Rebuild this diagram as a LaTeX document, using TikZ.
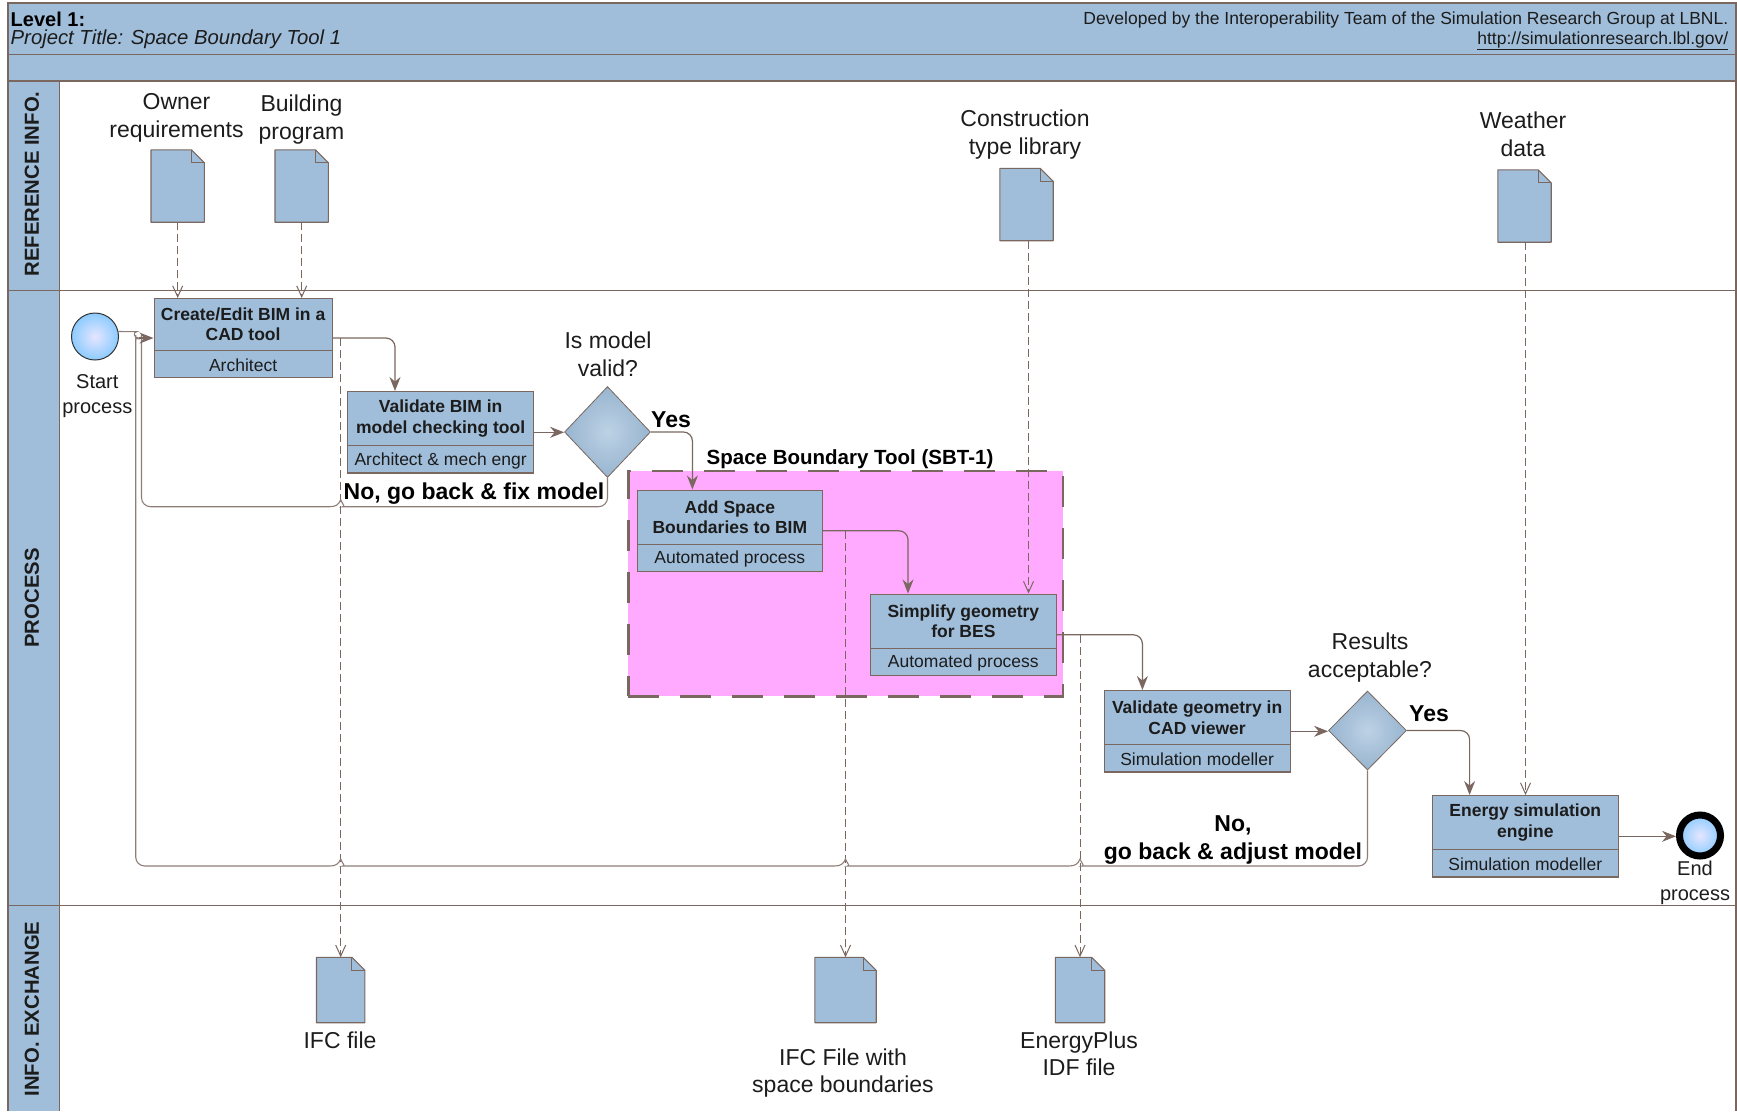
\documentclass[tikz,border=0pt]{standalone}
\usepackage{fontspec}
\setmainfont{Liberation Sans}
\usetikzlibrary{arrows.meta,positioning,shapes.geometric,shapes.multipart}

\definecolor{band}{HTML}{A0BEDA}
\definecolor{lineclr}{HTML}{7A675F}
\definecolor{sbtfill}{HTML}{FFAAFF}
\definecolor{txtclr}{HTML}{1C1C1C}

\newcommand{\taskparts}[4][53pt]{\parbox[c][#1][c]{#2}{\centering\bfseries #3}\nodepart{two}\parbox[c][26pt][c]{#2}{\centering\vspace*{2.4pt}#4}}
\newcommand{\hop}[2]{-- ({#1+11},#2) [sharp corners] .. controls ({#1+5},#2) and ({#1+2},{#2-2}) .. (#1,{#2-7}) .. controls ({#1-2},{#2-2}) and ({#1-5},#2) .. ({#1-11},#2) [rounded corners=9pt]}

\tikzset{
  lbl/.style = {font=\fontsize{23}{27.5}\selectfont, text=txtclr, align=center, inner sep=0pt},
  smalllbl/.style = {font=\fontsize{20}{25}\selectfont, text=txtclr, align=center, inner sep=0pt},
  boldlbl/.style = {font=\fontsize{23}{28}\selectfont\bfseries, text=black, align=center, inner sep=0pt},
  lanelbl/.style = {font=\fontsize{20.3}{24}\selectfont\bfseries, text=txtclr, rotate=90, inner sep=0pt},
  taskbox/.style = {rectangle split, rectangle split parts=2, draw=lineclr, line width=1.2pt, fill=band,
    inner sep=0pt, anchor=north west, text=txtclr, font=\fontsize{17.5}{20.5}\selectfont},
  choice/.style = {diamond, draw=lineclr, line width=.8pt, inner color=band!70!white, outer color=band!95!black, inner sep=0pt},
  docu/.style = {rectangle, inner sep=0pt, minimum width=53pt, minimum height=72pt,
    append after command={\pgfextra{
      \path[draw=lineclr, fill=band, line width=1.1pt, line join=round]
        (\tikzlastnode.north west) -- ([xshift=-13pt]\tikzlastnode.north east)
        -- ([yshift=-13pt]\tikzlastnode.north east) -- (\tikzlastnode.south east)
        -- (\tikzlastnode.south west) -- cycle;
      \path[draw=lineclr, line width=1.1pt, line join=round]
        ([xshift=-13pt]\tikzlastnode.north east) -- ([xshift=-13pt,yshift=-13pt]\tikzlastnode.north east)
        -- ([yshift=-13pt]\tikzlastnode.north east);
    }}},
  flow/.style = {draw=lineclr, line width=1.2pt, rounded corners=9pt, -{Stealth[length=14pt,width=11pt]}},
  back/.style = {draw=lineclr!85!white, line width=1.1pt, rounded corners=9pt},
  info/.style = {draw=lineclr, line width=1pt, dash pattern=on 8pt off 4pt, -{Straight Barb[length=11pt,width=10pt]}},
}

\begin{document}
\begin{tikzpicture}[x=1pt,y=-1pt]
  \useasboundingbox (0,0) rectangle (1737,1111);

  % bands and lanes
  \fill[band] (8,3) rectangle (1736,81);
  \fill[band] (8,81) rectangle (59.5,1111);
  \draw[lineclr,line width=1.2pt] (8,1111) -- (8,3) -- (1736,3) -- (1736,1111);
  \draw[lineclr,line width=1.2pt] (8,54.5) -- (1736,54.5);
  \draw[lineclr,line width=1.2pt] (8,81) -- (1736,81);
  \draw[lineclr,line width=1pt] (59.5,81) -- (59.5,1111);
  \draw[lineclr,line width=1pt] (8,290) -- (1736,290);
  \draw[lineclr,line width=1pt] (8,905) -- (1736,905);

  \node[lanelbl] (lane1) at (32,184) {REFERENCE INFO.};
  \node[lanelbl] (lane2) at (32,598) {PROCESS};
  \node[lanelbl] (lane3) at (32,1009) {INFO. EXCHANGE};

  \node[anchor=west,inner sep=0pt,text=black,font=\fontsize{20}{24}\selectfont\bfseries] (level) at (10.5,19) {Level 1:};
  \node[anchor=west,inner sep=0pt,text=txtclr,font=\fontsize{20.3}{24}\selectfont\itshape] (title) at (10.5,39.5) {Project Title: Space Boundary Tool 1};
  \node[anchor=east,inner sep=0pt,text=txtclr,font=\fontsize{17.5}{21}\selectfont] (devby) at (1728.5,20) {Developed by the Interoperability Team of the Simulation Research Group at LBNL.};
  \node[anchor=east,inner sep=0pt,text=txtclr,font=\fontsize{17.5}{21}\selectfont] (url) at (1728.5,41) {\underline{http://simulationresearch.lbl.gov/}};

  % tool frame
  \node[draw=lineclr,fill=sbtfill,line width=2.6pt,dash pattern=on 31pt off 21pt,inner sep=0pt,
        minimum width=434.5pt,minimum height=225.5pt,anchor=north west] (sbt) at (627,469.5) {};
  \node[inner sep=0pt,text=black,font=\fontsize{20.5}{24}\selectfont\bfseries] (sbtlbl) at (850,459.5) {Space Boundary Tool (SBT-1)};

  % documents
  \node[docu] (ownerdoc) at (177.7,186) {};
  \node[docu] (progdoc) at (301.7,186) {};
  \node[docu] (constrdoc) at (1026.5,204.5) {};
  \node[docu] (weatherdoc) at (1524.5,206) {};
  \node[docu,minimum width=48pt,minimum height=65pt] (ifcdoc) at (340.7,990) {};
  \node[docu,minimum width=61pt,minimum height=65pt] (ifcbdoc) at (845.5,990) {};
  \node[docu,minimum width=49pt,minimum height=65pt] (epdoc) at (1080,990) {};

  \node[lbl] (ownerlbl) at (176.5,118) {Owner\\requirements};
  \node[lbl] (proglbl) at (301.5,119.5) {Building\\program};
  \node[lbl] (constrlbl) at (1025,134.5) {Construction\\type library};
  \node[lbl] (weatherlbl) at (1523,134.5) {Weather\\data};
  \node[lbl] (ifclbl) at (340,1040) {IFC file};
  \node[lbl] (ifcblbl) at (843,1073) {IFC File with\\space boundaries};
  \node[lbl] (eplbl) at (1079,1054) {EnergyPlus\\IDF file};

  % tasks
  \node[taskbox] (create) at (153.5,298) {\taskparts[50.5pt]{178pt}{Create/Edit BIM in a\\CAD tool}{Architect}};
  \node[taskbox] (validate) at (347,391) {\taskparts{186pt}{Validate BIM in\\model checking tool}{Architect \& mech engr}};
  \node[taskbox] (addsb) at (636.5,489.5) {\taskparts{185.5pt}{Add Space\\Boundaries to BIM}{Automated process}};
  \node[taskbox] (simplify) at (870,593.5) {\taskparts{185.5pt}{Simplify geometry\\for BES}{Automated process}};
  \node[taskbox] (geomcheck) at (1103.5,690) {\taskparts{186pt}{Validate geometry in\\CAD viewer}{Simulation modeller}};
  \node[taskbox] (energy) at (1431.7,795) {\taskparts{186pt}{Energy simulation\\engine}{Simulation modeller}};

  \node[choice,minimum width=86pt,minimum height=91pt] (valid) at (607.5,432) {};
  \node[choice,minimum width=78pt,minimum height=79pt] (accept) at (1367.5,730.5) {};

  \node[circle,draw=black!80,line width=1pt,inner sep=0pt,minimum size=47pt,inner color=white!90!blue,outer color=blue!45!cyan!45!white] (start) at (95,336.5) {};
  \node[circle,draw=black,line width=7pt,inner sep=0pt,minimum size=41pt,inner color=white!90!blue,outer color=blue!45!cyan!45!white] (finish) at (1700,835.5) {};

  \node[smalllbl] (startlbl) at (97.3,396) {Start\\process};
  \node[smalllbl] (finishlbl) at (1695,882.5) {End\\process};
  \node[lbl] (validlbl) at (608,354.5) {Is model\\valid?};
  \node[lbl] (acceptlbl) at (1370,657.5) {Results\\acceptable?};
  \node[boldlbl] (yes1) at (671,420) {Yes};
  \node[boldlbl] (yes2) at (1429,714) {Yes};
  \node[boldlbl] (no1) at (474,494) {No, go back \& fix model};
  \node[boldlbl] (no2) at (1233,840) {No,\\go back \& adjust model};

  % entry points on the boxes
  \coordinate (createin) at ([xshift=-15pt]create.west);
  \coordinate (validatein) at (395,391);
  \coordinate (addsbin) at (692.4,489.5);
  \coordinate (simplifyin) at (908,593.5);
  \coordinate (geomin) at (1142.4,690);
  \coordinate (energyin) at (1469.6,795);
  \coordinate (ownerin) at (177.7,298);
  \coordinate (progin) at (301.7,298);
  \coordinate (constrin) at (1028.5,593.5);
  \coordinate (weatherin) at (1525.5,795);

  % information flows
  \draw[info] (ownerdoc.south) -- (ownerin);
  \draw[info] (progdoc.south) -- (progin);
  \draw[info] (constrdoc.south -| constrin) -- (constrin);
  \draw[info] (weatherdoc.south -| weatherin) -- (weatherin);
  \draw[info] (ifcdoc.north |- create.east) -- (ifcdoc.north);
  \draw[info] (ifcbdoc.north |- addsb.east) -- (ifcbdoc.north);
  \draw[info] (epdoc.north |- simplify.east) -- (epdoc.north);

  % going back
  \draw[back] (valid.south) -- (607.5,506.7) \hop{340.7}{506.7} -- (141.5,506.7) -- (141.5,344) to[out=90,in=180] (createin);
  \draw[back] (accept.south) -- (1367.5,866) \hop{1080}{866} \hop{845.5}{866} \hop{340.7}{866} -- (135.7,866) -- (135.7,344) to[out=90,in=180] (createin);

  % process flows
  \draw[back] (start.12) -- (128,331.6) to[out=0,in=180] (createin);
  \draw[flow] (createin) -- (create.west);
  \draw[flow] (create.east) -| (validatein);
  \draw[flow] (validate.east) -- (validate.east -| valid.west);
  \draw[flow] (valid.east) -| (addsbin);
  \draw[flow] (addsb.east) -| (simplifyin);
  \draw[flow] (simplify.east) -| (geomin);
  \draw[flow] (geomcheck.east) -- (geomcheck.east -| accept.west);
  \draw[flow] (accept.east) -| (energyin);
  \draw[flow] (energy.east) -- (energy.east -| finish.west);
\end{tikzpicture}
\end{document}
